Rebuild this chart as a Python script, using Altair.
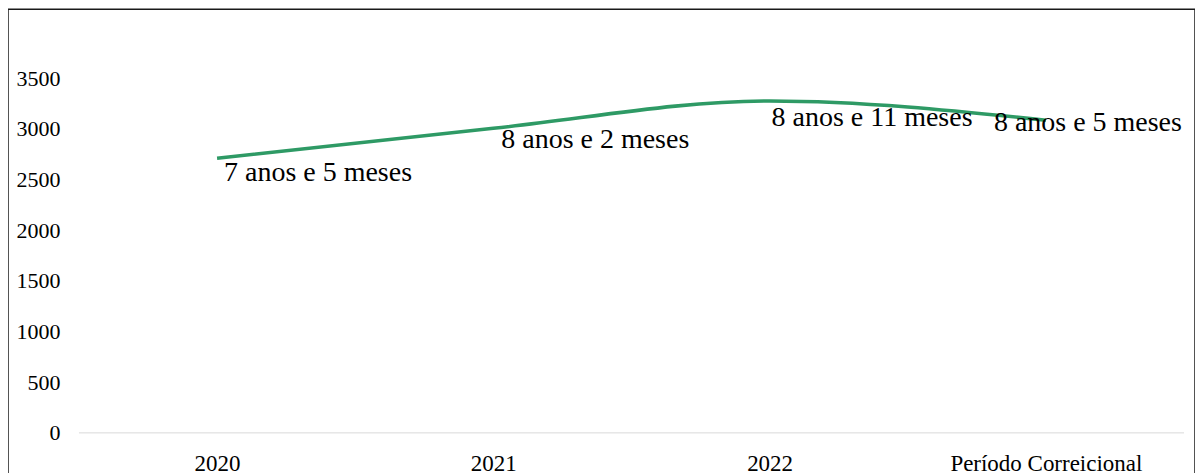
import altair as alt
import pandas as pd

categories = ["2020", "2021", "2022", "Período Correicional"]
values = [2710, 3005, 3275, 3085]
labels = ["7 anos e 5 meses", "8 anos e 2 meses", "8 anos e 11 meses", "8 anos e 5 meses"]
y_ticks = [0, 500, 1000, 1500, 2000, 2500, 3000, 3500]

df = pd.DataFrame({"cat": categories, "val": values, "label": labels})
zero = pd.DataFrame({"val": [0]})

FONT = "Liberation Serif"
xscale = alt.Scale(type="point", domain=categories, range=[71, 1177], padding=0.5)
yscale = alt.Scale(domain=[-463, 4180], nice=False, zero=False)

xenc = alt.X("cat:N", scale=xscale, sort=categories,
             axis=alt.Axis(title=None, orient="bottom", offset=-16, tickSize=0, labelPadding=0,
                           labelBaseline="middle", domain=False, grid=False, labelAngle=0,
                           labelLimit=0, labelFont=FONT, labelFontSize=23, labelColor="black"))
yenc = alt.Y("val:Q", scale=yscale,
             axis=alt.Axis(title=None, values=y_ticks, format="d", offset=-52, tickSize=0,
                           labelPadding=0, domain=False, grid=False, labelFont=FONT,
                           labelFontSize=22, labelColor="black", labelAlign="right",
                           labelBaseline="middle"))

base = alt.Chart(df)

zero_rule = alt.Chart(zero).mark_rule(color="#d9d9d9", strokeWidth=1).encode(
    x=alt.value(71), x2=alt.value(1177), y=alt.Y("val:Q", scale=yscale)
)

line = base.mark_line(color="#2e9a65", strokeWidth=3.6, interpolate="monotone").encode(x=xenc, y=yenc)

offsets = [
    (7, 15, "left"),
    (8, 12, "left"),
    (2, 17, "left"),
    (-52, 3, "left"),
]
texts = []
for lab, (dx, dy, al) in zip(labels, offsets):
    texts.append(
        base.transform_filter(alt.datum.label == lab)
        .mark_text(font=FONT, fontSize=28, color="black", align=al, baseline="middle", dx=dx, dy=dy)
        .encode(x=alt.X("cat:N", scale=xscale, sort=categories),
                y=alt.Y("val:Q", scale=yscale), text="label:N")
    )

chart = alt.layer(zero_rule, line, *texts).properties(
    width=1188, height=471, autosize="none",
    padding={"left": 0, "top": 1, "right": 0, "bottom": 0},
).configure(background="white").configure_view(stroke="#1a1a1a", strokeWidth=1.5)

chart.save("out.html", embed_options={"renderer": "svg", "actions": False})
